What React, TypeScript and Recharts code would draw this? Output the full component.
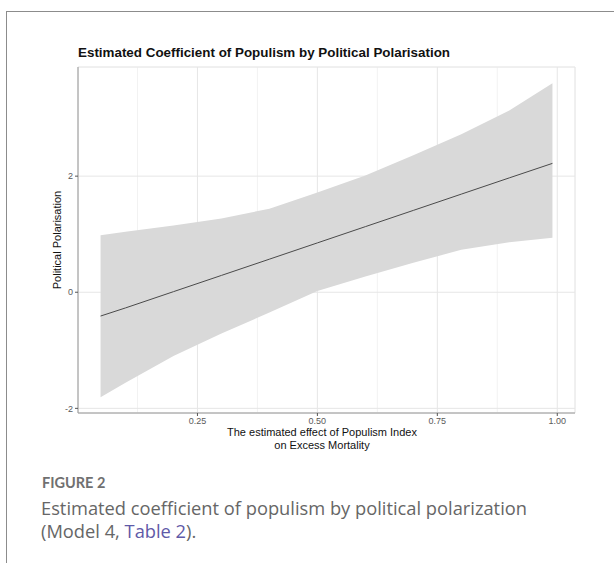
import { Area, CartesianGrid, ComposedChart, Line, ReferenceArea, XAxis, YAxis } from "recharts";

// populism index (x), fitted coefficient and 95% band
const populism = [0.048, 0.1, 0.2, 0.3, 0.4, 0.5, 0.6, 0.7, 0.8, 0.9, 0.99];
const fitted = [-0.41, -0.27, 0.01, 0.29, 0.57, 0.85, 1.13, 1.41, 1.69, 1.97, 2.22];
const lower = [-1.81, -1.56, -1.1, -0.71, -0.35, 0.02, 0.27, 0.51, 0.73, 0.86, 0.94];
const upper = [0.98, 1.04, 1.15, 1.27, 1.44, 1.72, 2.01, 2.36, 2.72, 3.13, 3.6];

const xTicks = [0.25, 0.5, 0.75, 1.0];
const xMinor = [0.125, 0.375, 0.625, 0.875];
const yTicks = [-2, 0, 2];
const yMinor = [-1, 1, 3];

const xDomain = [0.001, 1.037];
const yDomain = [-2.08, 3.88];

const data = populism.map((x, i) => ({
  x,
  fit: fitted[i],
  band: [lower[i], upper[i]],
}));

const plotFont = "'Liberation Sans', Arial, Helvetica, sans-serif";
const captionFont = "'Open Sans', Lato, sans-serif";

export default function App() {
  return (
    <div
      style={{
        position: "absolute",
        left: 0,
        top: 0,
        width: 614,
        height: 563,
        overflow: "hidden",
        background: "#fff",
      }}
    >
      {/* figure frame */}
      <div
        style={{
          position: "absolute",
          left: 6,
          top: 11,
          width: 700,
          height: 700,
          border: "1.5px solid #8c8c8c",
        }}
      />

      <div
        style={{
          position: "absolute",
          left: 78,
          top: 45,
          fontFamily: plotFont,
          fontWeight: "bold",
          fontSize: 13.4,
          color: "#111",
          whiteSpace: "nowrap",
        }}
      >
        Estimated Coefficient of Populism by Political Polarisation
      </div>

      <div style={{ position: "absolute", left: 0, top: 0 }}>
        <ComposedChart
          width={614}
          height={433}
          data={data}
          margin={{ top: 67, right: 39, left: 48, bottom: 0 }}
        >
          <XAxis xAxisId="minor" dataKey="x" type="number" domain={xDomain} ticks={xMinor} hide />
          <YAxis yAxisId="minor" type="number" domain={yDomain} ticks={yMinor} hide />
          <CartesianGrid xAxisId="minor" yAxisId="minor" stroke="#f2f2f2" strokeWidth={1} />
          <CartesianGrid stroke="#e6e6e6" strokeWidth={1} />
          <XAxis
            dataKey="x"
            type="number"
            domain={xDomain}
            ticks={xTicks}
            allowDataOverflow
            height={20}
            tickSize={3}
            tickFormatter={(v: number) => v.toFixed(2)}
            tick={{ fontSize: 9, fill: "#5a5a5a", fontFamily: plotFont }}
            axisLine={{ stroke: "#9a9a9a" }}
            tickLine={{ stroke: "#555" }}
          />
          <YAxis
            type="number"
            domain={yDomain}
            ticks={yTicks}
            allowDataOverflow
            width={30}
            tickSize={3}
            tick={{ fontSize: 9, fill: "#5a5a5a", fontFamily: plotFont }}
            axisLine={{ stroke: "#9a9a9a" }}
            tickLine={{ stroke: "#555" }}
          />
          <Area
            dataKey="band"
            type="linear"
            fill="#d9d9d9"
            fillOpacity={1}
            stroke="none"
            isAnimationActive={false}
          />
          <Line
            dataKey="fit"
            type="linear"
            stroke="#4a4a4a"
            strokeWidth={1}
            dot={false}
            activeDot={false}
            isAnimationActive={false}
          />
          <ReferenceArea fill="none" stroke="#9a9a9a" strokeWidth={1} />
        </ComposedChart>
      </div>

      {/* y axis title */}
      <div
        style={{
          position: "absolute",
          left: 57,
          top: 240,
          transform: "translate(-50%, -50%) rotate(-90deg)",
          fontFamily: plotFont,
          fontSize: 11,
          color: "#111",
          whiteSpace: "nowrap",
        }}
      >
        Political Polarisation
      </div>

      {/* x axis title */}
      <div
        style={{
          position: "absolute",
          left: 322,
          top: 426,
          transform: "translateX(-50%)",
          fontFamily: plotFont,
          fontSize: 11,
          lineHeight: "13px",
          color: "#111",
          textAlign: "center",
          whiteSpace: "nowrap",
        }}
      >
        The estimated effect of Populism Index
        <br />
        on Excess Mortality
      </div>

      {/* caption */}
      <div
        style={{
          position: "absolute",
          left: 42,
          top: 474,
          fontFamily: "Lato, sans-serif",
          fontSize: 14.5,
          fontWeight: 700,
          color: "#707070",
        }}
      >
        FIGURE 2
      </div>
      <div
        style={{
          position: "absolute",
          left: 41,
          top: 496,
          fontFamily: captionFont,
          fontSize: 18.3,
          lineHeight: "23px",
          color: "#666",
          whiteSpace: "nowrap",
        }}
      >
        Estimated coefficient of populism by political polarization
        <br />
        (Model 4, <span style={{ color: "#5f5aa8" }}>Table 2</span>).
      </div>
    </div>
  );
}
